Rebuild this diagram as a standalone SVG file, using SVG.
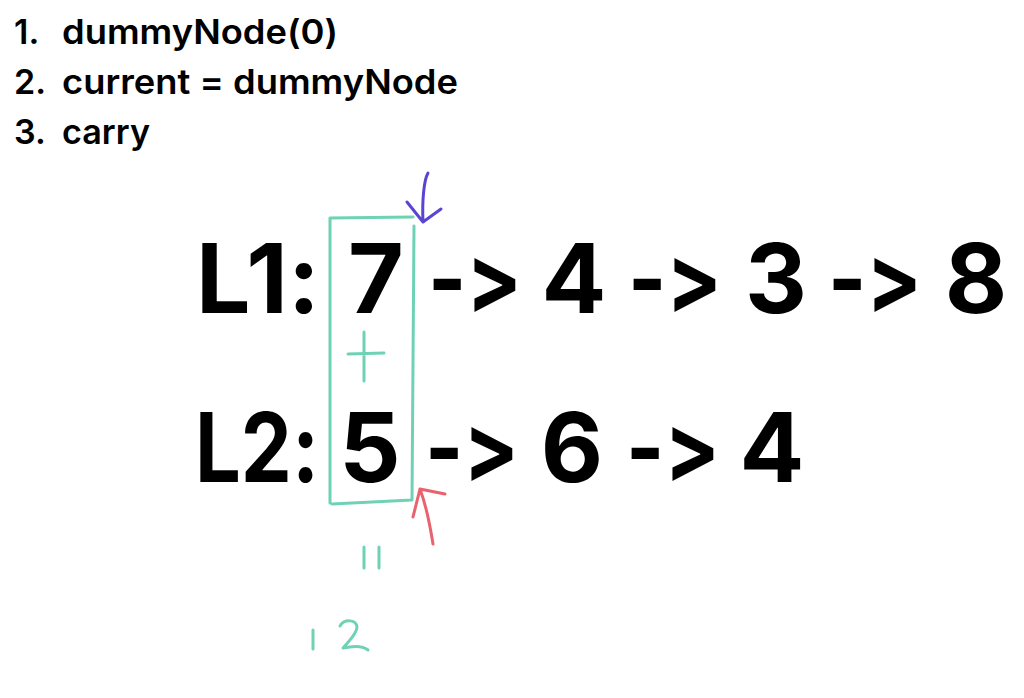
<svg xmlns="http://www.w3.org/2000/svg" width="1024" height="698" viewBox="0 0 1024 698">
<style>
text{font-feature-settings:"calt" 0,"liga" 0;font-variant-ligatures:none}
.list{font-family:Inter,"Liberation Sans",sans-serif;font-size:34px;font-weight:600;fill:#000}
.big{font-family:Inter,"Liberation Sans",sans-serif;font-size:96px;font-weight:700;fill:#000}
.ink{fill:none;stroke-linecap:round;stroke-linejoin:round}
.g{stroke:#6fd2b5;stroke-width:3}
.p{stroke:#5a44d4;stroke-width:3}
.r{stroke:#e8636f;stroke-width:3}
</style>
<rect width="1024" height="698" fill="#fff"/>
<g id="steps">
<text class="list" x="14" y="44">1.</text><text class="list" x="62" y="44" textLength="276" lengthAdjust="spacingAndGlyphs">dummyNode(0)</text>
<text class="list" x="14" y="94">2.</text><text class="list" x="62" y="94" textLength="396" lengthAdjust="spacingAndGlyphs">current = dummyNode</text>
<text class="list" x="14" y="144">3.</text><text class="list" x="62" y="144" textLength="88" lengthAdjust="spacingAndGlyphs">carry</text>
</g>
<g id="list1">
<text class="big" x="196" y="313" textLength="124" lengthAdjust="spacingAndGlyphs">L1:</text>
<text class="big" x="376" y="313" text-anchor="middle">7</text>
<text class="big" x="428" y="313" textLength="94" lengthAdjust="spacingAndGlyphs">-&gt;</text>
<text class="big" x="574" y="313" text-anchor="middle">4</text>
<text class="big" x="628" y="313" textLength="94" lengthAdjust="spacingAndGlyphs">-&gt;</text>
<text class="big" x="776" y="313" text-anchor="middle">3</text>
<text class="big" x="828" y="313" textLength="94" lengthAdjust="spacingAndGlyphs">-&gt;</text>
<text class="big" x="976" y="313" text-anchor="middle">8</text>
</g>
<g id="list2">
<text class="big" x="195" y="482" textLength="124" lengthAdjust="spacingAndGlyphs">L2:</text>
<text class="big" x="370" y="482" text-anchor="middle">5</text>
<text class="big" x="425" y="482" textLength="94" lengthAdjust="spacingAndGlyphs">-&gt;</text>
<text class="big" x="572" y="482" text-anchor="middle">6</text>
<text class="big" x="626" y="482" textLength="94" lengthAdjust="spacingAndGlyphs">-&gt;</text>
<text class="big" x="772" y="482" text-anchor="middle">4</text>
</g>
<g id="annotations">
<path class="ink g" d="M330 503 L330 218 L413 217"/>
<path class="ink g" d="M414 226 L412 500 L332 504"/>
<path class="ink g" d="M348 354 L384 353 M364 332 L364 381"/>
<path class="ink p" d="M428 173 C424 180 422 200 423 222 M407 202 L423 222 L441 209"/>
<path class="ink r" d="M433 544 C430 525 426 505 420 489 M413 517 L420 489 L445 494"/>
<path class="ink g" d="M364 547 L364 568 M379 547 L379 568"/>
<path class="ink g" d="M313 630 L313 649"/>
<path class="ink g" d="M340 626 C344 619 356 619 357 627 C357 634 348 642 343 648 C352 646 362 645 368 650"/>
</g>
</svg>
